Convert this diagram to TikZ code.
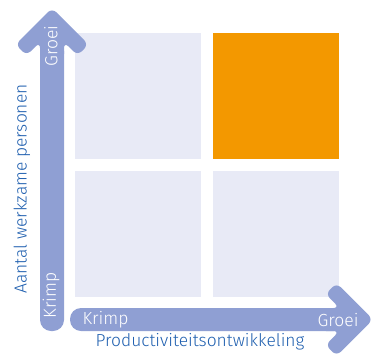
\documentclass[tikz,border=0pt]{standalone}
\usepackage{fontspec}
\setmainfont{Fira Sans}[UprightFont=* Light]
\definecolor{arrowc}{HTML}{8F9FD3}
\definecolor{lightc}{HTML}{E8EAF6}
\definecolor{orangec}{HTML}{F39800}
\definecolor{bluetext}{HTML}{1F5FAF}
\begin{document}
\begin{tikzpicture}[x=1pt,y=-1pt,
  cell/.style={fill=lightc,draw=none},
  arrowfill/.style={fill=arrowc,draw=none},
  intext/.style={text=white,font=\fontsize{17.5}{19}\selectfont,inner sep=0pt},
  axistext/.style={text=bluetext,font=\fontsize{17.4}{19}\selectfont,inner sep=0pt}]
\useasboundingbox (0,0) rectangle (371,353);
% cells
\fill[cell] (75,33) rectangle (201,159);
\fill[orangec] (213,33) rectangle (339,159);
\fill[cell] (75,171) rectangle (201,297);
\fill[cell] (213,171) rectangle (339,297);
% vertical arrow
\fill[arrowfill,rounded corners=11pt] (40,40) rectangle (64,331);
\fill[arrowfill,rounded corners=6pt] (52,8) -- (88.5,44.5) -- (77.5,55.5) -- (64,42) -- (64,60) -- (40,60) -- (40,42) -- (26.5,55.5) -- (15.5,44.5) -- cycle;
% horizontal arrow
\fill[arrowfill,rounded corners=11pt] (70,308) rectangle (345,331);
\fill[arrowfill,rounded corners=6pt] (373,319.5) -- (336.5,283) -- (325.5,294) -- (339.5,308) -- (320,308) -- (320,331) -- (339.5,331) -- (325.5,345) -- (336.5,356) -- cycle;
% texts in arrows
\node[intext,rotate=90] (vg) at (51,46) {Groei};
\node[intext,rotate=90] (vk) at (51,295.5) {Krimp};
\node[intext] (hk) at (105.5,320) {Krimp};
\node[intext] (hg) at (338,320) {Groei};
% axis labels
\node[axistext,rotate=90] (yl) at (22,189) {Aantal werkzame personen};
\node[axistext] (xl) at (200,342) {Productiviteitsontwikkeling};
\end{tikzpicture}
\end{document}
